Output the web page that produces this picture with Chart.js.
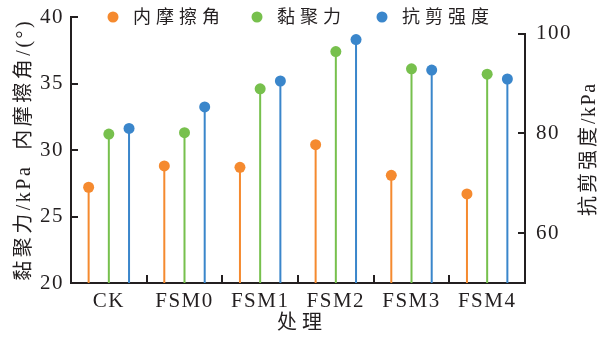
<!DOCTYPE html>
<html><head><meta charset="utf-8">
<script src="https://cdn.jsdelivr.net/npm/chart.js@4/dist/chart.umd.min.js"></script>
<style>html,body{margin:0;padding:0;background:#fff}#wrap{width:602px;height:338px}</style>
</head><body><div id="wrap"><canvas id="c" width="602" height="338"></canvas></div>
<script>
const categories = ['CK', 'FSM0', 'FSM1', 'FSM2', 'FSM3', 'FSM4'];
const frictionAngle = [27.2, 28.8, 28.7, 30.4, 28.1, 26.7];   // 内摩擦角 /(°)
const cohesion = [31.2, 31.3, 34.6, 37.4, 36.1, 35.7];        // 黏聚力 /kPa
const shearStrength = [81.0, 85.3, 90.5, 98.8, 92.7, 90.9];   // 抗剪强度 /kPa
const leftTicks = [20, 25, 30, 35, 40];
const rightTicks = [60, 80, 100];
const rightMin = 50;
const seriesNames = ['内摩擦角', '黏聚力', '抗剪强度'];
const leftTitle = '黏聚力/kPa  内摩擦角/(°)';
const rightTitle = '抗剪强度/kPa';
const xTitle = '处理';

const COLORS = ['#f58a2f', '#77c04d', '#3a86cb'];
const AXIS = '#231f20';
const FONT_FAMILY = "'Liberation Serif', 'Noto Sans CJK SC', serif";
const GROUP_OFF = 0.267;   // horizontal offset of each series inside its category (fraction of category width)

const seriesValues = [frictionAngle, cohesion, shearStrength];
const seriesAxis = ['y', 'y', 'y2'];
const axisMin = { y: leftTicks[0], y2: rightMin };

const datasets = [];
// stems (drop lines from axis bottom to the value)
seriesValues.forEach((vals, k) => {
  const off = (k - 1) * GROUP_OFF;
  const base = axisMin[seriesAxis[k]];
  const stem = [];
  vals.forEach((v, i) => { stem.push({ x: i + off, y: base }, { x: i + off, y: v }, { x: i + off, y: null }); });
  datasets.push({
    type: 'line', label: seriesNames[k] + ' stem', data: stem, spanGaps: false,
    xAxisID: 'x2', yAxisID: seriesAxis[k], borderColor: COLORS[k], borderWidth: 2,
    pointRadius: 0, pointHoverRadius: 0, order: 2
  });
});
// dots
seriesValues.forEach((vals, k) => {
  const off = (k - 1) * GROUP_OFF;
  datasets.push({
    type: 'line', label: seriesNames[k], showLine: false,
    data: vals.map((v, i) => ({ x: i + off, y: v })),
    xAxisID: 'x2', yAxisID: seriesAxis[k],
    pointRadius: 5.5, pointHoverRadius: 5.5, pointBorderWidth: 0,
    pointBackgroundColor: COLORS[k], borderColor: COLORS[k], order: 1
  });
});

function setSpacing(ctx, px) { if ('letterSpacing' in ctx) ctx.letterSpacing = px + 'px'; }
function isCJK(ch) { return /[\u3000-\u9fff\uff00-\uffef]/.test(ch); }
function drawSpaced(ctx, text, cx, cy, angle, cjkGap, latinGap) {
  const chars = [...text];
  const adv = chars.map(ch => ctx.measureText(ch).width + (isCJK(ch) ? cjkGap : latinGap));
  const lastGap = isCJK(chars[chars.length - 1]) ? cjkGap : latinGap;
  const total = adv.reduce((s, w) => s + w, 0) - lastGap;
  ctx.save();
  ctx.translate(cx, cy); ctx.rotate(angle);
  ctx.textAlign = 'left';
  let xx = -total / 2;
  chars.forEach((ch, i) => { ctx.fillText(ch, xx, 0); xx += adv[i]; });
  ctx.restore();
}

const deco = {
  id: 'deco',
  beforeDraw(chart) { setSpacing(chart.ctx, 1.5); },
  afterDraw(chart) {
    const { ctx, chartArea: a, scales: { x, y, y2 } } = chart;
    ctx.save();
    setSpacing(ctx, 0);
    ctx.strokeStyle = AXIS; ctx.lineWidth = 2; ctx.lineCap = 'butt';
    const t100 = Math.round(y2.getPixelForValue(rightTicks[rightTicks.length - 1]));
    ctx.beginPath();
    ctx.moveTo(a.right, t100 - 1); ctx.lineTo(a.right, a.bottom + 1);
    leftTicks.forEach(v => { const py = Math.round(y.getPixelForValue(v)); ctx.moveTo(a.left, py); ctx.lineTo(a.left + 7, py); });
    rightTicks.forEach(v => { const py = Math.round(y2.getPixelForValue(v)); ctx.moveTo(a.right, py); ctx.lineTo(a.right - 7, py); });
    for (let i = 1; i < categories.length; i++) {
      const px = Math.round((x.getPixelForValue(i - 1) + x.getPixelForValue(i)) / 2);
      ctx.moveTo(px, a.bottom); ctx.lineTo(px, a.bottom - 8);
    }
    ctx.stroke();

    // legend
    const legendX = [113, 257, 382];
    const legendY = 17;
    ctx.font = "18px " + FONT_FAMILY;
    ctx.textBaseline = 'middle'; ctx.textAlign = 'left';
    setSpacing(ctx, 5);
    seriesNames.forEach((n, k) => {
      ctx.fillStyle = COLORS[k];
      ctx.beginPath(); ctx.arc(legendX[k], legendY, 5.5, 0, Math.PI * 2); ctx.fill();
      ctx.fillStyle = AXIS;
      ctx.fillText(n, legendX[k] + 20, legendY + 1);
    });
    setSpacing(ctx, 0);

    // axis titles
    ctx.fillStyle = AXIS;
    ctx.font = "20px " + FONT_FAMILY;
    drawSpaced(ctx, leftTitle, 25, 151, -Math.PI / 2, 3.5, 2.5);
    drawSpaced(ctx, rightTitle, 590, 150, -Math.PI / 2, 3, 1.5);
    drawSpaced(ctx, xTitle, 299.5, 324, 0, 5, 0);
    ctx.restore();
  }
};

const tickFont = { family: FONT_FAMILY, size: 21 };
const noPad = s => { s.paddingTop = 0; s.paddingBottom = 0; };
new Chart(document.getElementById('c'), {
  type: 'line',
  data: { labels: categories, datasets },
  options: {
    responsive: false, animation: false, devicePixelRatio: 1,
    layout: { padding: { top: 17, left: 0, right: 0, bottom: 0 } },
    plugins: { legend: { display: false }, tooltip: { enabled: false } },
    scales: {
      x: {
        type: 'category', offset: true, position: 'bottom',
        grid: { display: false, drawTicks: false },
        border: { display: true, color: AXIS, width: 2 },
        ticks: { font: tickFont, color: AXIS, padding: 6, maxRotation: 0 },
        afterFit: s => { s.height = 55; s.paddingLeft = 0; s.paddingRight = 0; }
      },
      x2: { type: 'linear', display: false, offset: false, min: -0.5, max: categories.length - 0.5 },
      y: {
        position: 'left', min: leftTicks[0], max: leftTicks[leftTicks.length - 1],
        grid: { display: false, drawTicks: false },
        border: { display: true, color: AXIS, width: 2 },
        ticks: { font: tickFont, color: AXIS, padding: 7 },
        afterBuildTicks: s => { s.ticks = leftTicks.map(v => ({ value: v })); },
        afterFit: s => { s.width = 71; noPad(s); }
      },
      y2: {
        position: 'right', min: rightMin, max: 103.33,
        grid: { display: false, drawTicks: false },
        border: { display: false },
        ticks: { font: tickFont, color: AXIS, padding: 11 },
        afterBuildTicks: s => { s.ticks = rightTicks.map(v => ({ value: v })); },
        afterFit: s => { s.width = 77; noPad(s); }
      }
    }
  },
  plugins: [deco]
});
</script></body></html>
